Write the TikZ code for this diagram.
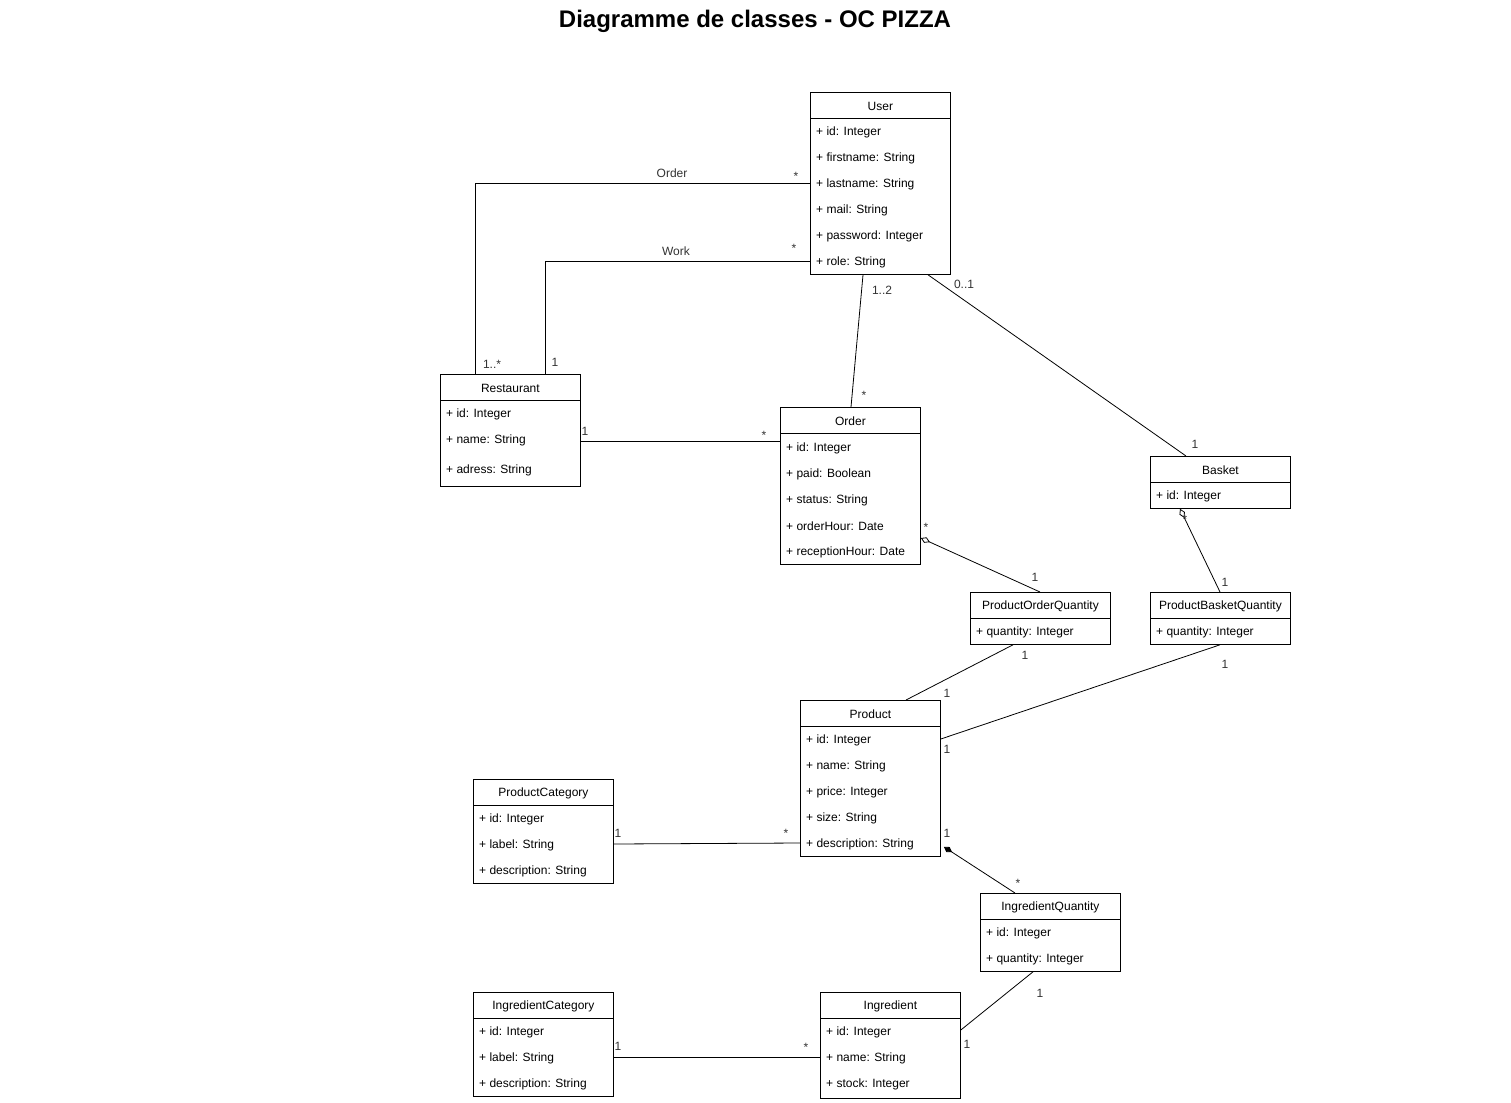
\documentclass[tikz,border=0pt]{standalone}
\usepackage{fontspec}
\setmainfont{Liberation Sans}
\usetikzlibrary{calc,arrows.meta}
\tikzset{
  cls/.style={draw, line width=0.8pt, rectangle, anchor=north west, minimum width=140pt, inner sep=0pt},
  ttl/.style={font=\fontsize{12}{14}\selectfont, inner sep=0pt},
  attr/.style={font=\fontsize{12}{14}\selectfont, anchor=west, inner sep=0pt},
  conn/.style={line width=0.8pt},
  mult/.style={font=\fontsize{12}{14}\selectfont, text=black!80, inner sep=0pt},
  agg/.style={conn, {Diamond[open, length=10pt, width=6pt]}-},
  comp/.style={conn, {Diamond[length=10pt, width=6pt]}-}
}
\newcommand\umlbox[5]{%
  \node[cls, minimum height=#4pt] (#1) at (#2,#3) {};
  \node[ttl] (#1-t) at ($(#1.north)+(0,14)$) {#5};
  \draw[line width=0.8pt] ($(#1.north west)+(0,26)$) -- ($(#1.north east)+(0,26)$);
}
\begin{document}
\begin{tikzpicture}[x=1pt, y=-1pt]
\useasboundingbox[fill=white] (0,0) rectangle (1511,1102);

\node[font=\fontsize{24}{28}\selectfont\bfseries] (title) at (755,21) {Diagramme de classes - OC PIZZA};

% User
\umlbox{user}{810}{92}{182}{User}
\node[attr] (u1) at (816,132) {+ id: Integer};
\node[attr] (u2) at (816,158) {+ firstname: String};
\node[attr] (u3) at (816,184) {+ lastname: String};
\node[attr] (u4) at (816,210) {+ mail: String};
\node[attr] (u5) at (816,236) {+ password: Integer};
\node[attr] (u6) at (816,262) {+ role: String};

% Restaurant
\umlbox{rest}{440}{374}{112}{Restaurant}
\node[attr] (r1) at (446,414) {+ id: Integer};
\node[attr] (r2) at (446,440) {+ name: String};
\node[attr] (r3) at (446,470) {+ adress: String};

% Order
\umlbox{order}{780}{407}{157}{Order}
\node[attr] (o1) at (786,448) {+ id: Integer};
\node[attr] (o2) at (786,474) {+ paid: Boolean};
\node[attr] (o3) at (786,500) {+ status: String};
\node[attr] (o4) at (786,526) {+ orderHour: Date};
\node[attr] (o5) at (786,552) {+ receptionHour: Date};

% Basket
\umlbox{basket}{1150}{456}{52}{Basket}
\node[attr] (b1) at (1156,496) {+ id: Integer};

% ProductOrderQuantity
\umlbox{poq}{970}{592}{52}{ProductOrderQuantity}
\node[attr] (poq1) at (976,632) {+ quantity: Integer};

% ProductBasketQuantity
\umlbox{pbq}{1150}{592}{52}{ProductBasketQuantity}
\node[attr] (pbq1) at (1156,632) {+ quantity: Integer};

% Product
\umlbox{prod}{800}{700}{156}{Product}
\node[attr] (p1) at (806,740) {+ id: Integer};
\node[attr] (p2) at (806,766) {+ name: String};
\node[attr] (p3) at (806,792) {+ price: Integer};
\node[attr] (p4) at (806,818) {+ size: String};
\node[attr] (p5) at (806,844) {+ description: String};

% ProductCategory
\umlbox{pcat}{473}{779}{104}{ProductCategory}
\node[attr] (pc1) at (479,819) {+ id: Integer};
\node[attr] (pc2) at (479,845) {+ label: String};
\node[attr] (pc3) at (479,871) {+ description: String};

% IngredientQuantity
\umlbox{iq}{980}{893}{78}{IngredientQuantity}
\node[attr] (iq1) at (986,933) {+ id: Integer};
\node[attr] (iq2) at (986,959) {+ quantity: Integer};

% IngredientCategory
\umlbox{icat}{473}{992}{104}{IngredientCategory}
\node[attr] (ic1) at (479,1032) {+ id: Integer};
\node[attr] (ic2) at (479,1058) {+ label: String};
\node[attr] (ic3) at (479,1084) {+ description: String};

% Ingredient
\umlbox{ingr}{820}{992}{106}{Ingredient}
\node[attr] (i1) at (826,1032) {+ id: Integer};
\node[attr] (i2) at (826,1058) {+ name: String};
\node[attr] (i3) at (826,1084) {+ stock: Integer};

% ---- connectors ----
% Order association Restaurant - User
\draw[conn] ($(rest.north west)+(35,0)$) |- ($(user.north west)+(0,91)$);
\node[mult] at (672,173) {Order};
\node[mult] at (796,176) {*};
\node[mult] at (492,364) {1..*};

% Work association
\draw[conn] ($(rest.north west)+(105,0)$) |- ($(user.north west)+(0,169)$);
\node[mult] at (676,251) {Work};
\node[mult] at (794,248) {*};
\node[mult] at (555,362) {1};

% User - Order
\draw[conn] ($(user.south west)+(53,0)$) -- ($(order.north west)+(71,0)$);
\node[mult] at (882,290) {1..2};
\node[mult] at (864,395) {*};

% User - Basket
\draw[conn] ($(user.south west)+(118,0)$) -- ($(basket.north west)+(36,0)$);
\node[mult] at (964,284) {0..1};
\node[mult] at (1195,444) {1};

% Restaurant - Order
\draw[conn] ($(rest.north east)+(0,67)$) -- ($(order.north west)+(0,34)$);
\node[mult] at (585,431) {1};
\node[mult] at (764,435) {*};

% Order - ProductOrderQuantity (aggregation)
\draw[agg] ($(order.north east)+(0,131)$) -- ($(poq.north west)+(70,0)$);
\node[mult] at (926,527) {*};
\node[mult] at (1035,577) {1};

% Basket - ProductBasketQuantity (aggregation)
\draw[agg] ($(basket.south west)+(30,0)$) -- ($(pbq.north west)+(70,0)$);
\node[mult] at (1185,519) {*};
\node[mult] at (1225,582) {1};

% ProductOrderQuantity - Product
\draw[conn] ($(poq.south west)+(43,0)$) -- ($(prod.north west)+(106,0)$);
\node[mult] at (1025,655) {1};
\node[mult] at (947,693) {1};

% ProductBasketQuantity - Product
\draw[conn] ($(pbq.south west)+(70,0)$) -- ($(prod.north east)+(0,39)$);
\node[mult] at (1225,664) {1};
\node[mult] at (947,749) {1};

% ProductCategory - Product
\draw[conn] ($(pcat.north east)+(0,65)$) -- ($(prod.north west)+(0,143)$);
\node[mult] at (618,833) {1};
\node[mult] at (786,833) {*};

% Product - IngredientQuantity (composition)
\draw[comp] ($(prod.south east)+(3,-10)$) -- ($(iq.north west)+(35,0)$);
\node[mult] at (947,833) {1};
\node[mult] at (1018,883) {*};

% IngredientQuantity - Ingredient
\draw[conn] ($(iq.south west)+(53,0)$) -- ($(ingr.north east)+(0,38)$);
\node[mult] at (1040,993) {1};
\node[mult] at (967,1044) {1};

% IngredientCategory - Ingredient
\draw[conn] ($(icat.north east)+(0,65)$) -- ($(ingr.north west)+(0,65)$);
\node[mult] at (618,1046) {1};
\node[mult] at (806,1047) {*};
\end{tikzpicture}
\end{document}
